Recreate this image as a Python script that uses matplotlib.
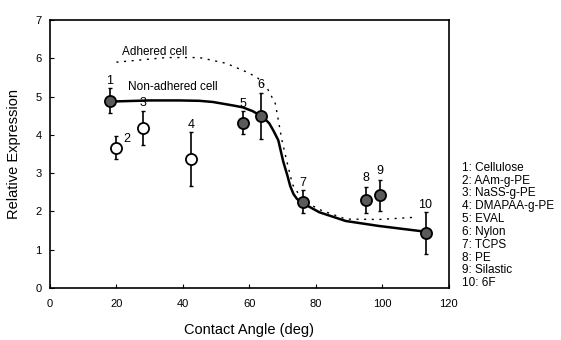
import matplotlib
matplotlib.use("Agg")
import matplotlib.pyplot as plt

plt.rcParams["font.family"] = ["Liberation Sans", "DejaVu Sans"]

# measured points (contact angle, relative expression, error)
point_ids = ["1", "2", "3", "4", "5", "6", "7", "8", "9", "10"]
angle = [18, 20, 28, 42.4, 58, 63.5, 76, 95.2, 99.2, 113]
expression = [4.89, 3.66, 4.18, 3.37, 4.32, 4.5, 2.25, 2.3, 2.42, 1.44]
error = [0.33, 0.3, 0.45, 0.7, 0.3, 0.6, 0.3, 0.35, 0.4, 0.54]
open_marker = [False, True, True, True, False, False, False, False, False, False]

materials = ["Cellulose", "AAm-g-PE", "NaSS-g-PE", "DMAPAA-g-PE", "EVAL",
             "Nylon", "TCPS", "PE", "Silastic", "6F"]

# fitted curves
nonadh_x = [18, 30, 39, 45, 49, 55, 58, 61, 63, 64.5, 66, 67.3, 68.7, 70.2,
            71.4, 72.3, 73.3, 74.3, 76, 81, 89, 99, 113]
nonadh_y = [4.87, 4.9, 4.9, 4.89, 4.86, 4.77, 4.72, 4.62, 4.52, 4.43, 4.3,
            4.1, 3.86, 3.3, 2.95, 2.66, 2.45, 2.33, 2.22, 1.98, 1.75, 1.62,
            1.47]
adh_x = [20, 25, 35, 45, 53, 59, 62.4, 65.5, 67.8, 68.7, 69.8, 71.3, 73,
         76, 81, 89, 99, 110.5]
adh_y = [5.9, 5.94, 6.02, 6.02, 5.87, 5.65, 5.5, 5.2, 4.82, 4.39, 3.86,
         3.3, 2.7, 2.3, 2.05, 1.8, 1.79, 1.85]

# label offsets in points (dx, dy) from top of error bar
label_offsets = [(0, 1), (5, -6), (0, 1), (0, 1), (0, 1), (0, 1), (0, 1),
                 (0, 2), (0, 2), (0, 1)]

fig = plt.figure(figsize=(5.61, 3.40), dpi=100)
ax = fig.add_axes([0.089, 0.153, 0.711, 0.788])

ax.plot(nonadh_x, nonadh_y, color="black", lw=1.8, zorder=2)
ax.plot(adh_x, adh_y, color="black", lw=1.0, linestyle=(0, (1.5, 4)), zorder=2)

for i in range(len(angle)):
    ax.errorbar(angle[i], expression[i], yerr=error[i], fmt="none",
                ecolor="black", elinewidth=1.2, capsize=1.5, zorder=3)
    face = "white" if open_marker[i] else "#5a5a5a"
    ax.plot(angle[i], expression[i], "o", ms=8, mfc=face, mec="black",
            mew=1.3, zorder=4)
    dx, dy = label_offsets[i]
    ax.annotate(point_ids[i], (angle[i], expression[i] + error[i]),
                xytext=(dx, dy), textcoords="offset points",
                ha="left" if dx else "center", va="bottom", fontsize=9)

ax.text(21.7, 6.16, "Adhered cell", fontsize=8.5, va="center")
ax.text(23.5, 5.25, "Non-adhered cell", fontsize=8.5, va="center")

ax.set_xlim(0, 120)
ax.set_ylim(0, 7)
ax.set_xticks([0, 20, 40, 60, 80, 100, 120])
ax.set_yticks(range(8))
ax.tick_params(direction="in", length=3, labelsize=8, pad=6)
ax.tick_params(axis="x", pad=8)
for s in ax.spines.values():
    s.set_linewidth(1.2)

ax.set_xlabel("Contact Angle (deg)", fontsize=10.5, labelpad=10)
ax.set_ylabel("Relative Expression", fontsize=10.5, labelpad=10)

legend_text = "\n".join(f"{n}: {m}" for n, m in zip(point_ids, materials))
fig.text(0.823, 0.524, legend_text, fontsize=8.5, va="top", ha="left",
         linespacing=1.09)

fig.savefig("out.png", dpi=100)
